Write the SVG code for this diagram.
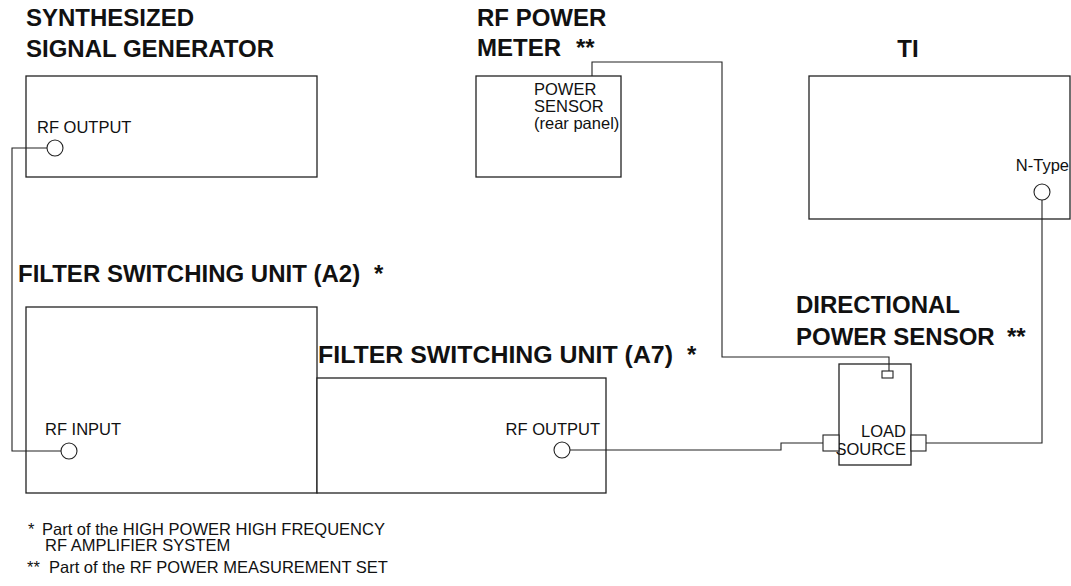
<svg xmlns="http://www.w3.org/2000/svg" width="1071" height="586" viewBox="0 0 1071 586">
<style>
.box{fill:#fff;stroke:#222;stroke-width:1.3}
.w{fill:none;stroke:#222;stroke-width:1.1}
.c{fill:#fff;stroke:#222;stroke-width:1.1}
.t{font-family:"Liberation Sans",Arial,sans-serif;font-weight:bold;font-size:24px;fill:#111}
.s{font-family:"Liberation Sans",Arial,sans-serif;font-size:16.5px;fill:#111}
</style>
<rect width="1071" height="586" fill="#fff"/>
<g id="synth">
<text class="t" x="26" y="26">SYNTHESIZED</text>
<text class="t" x="26" y="57">SIGNAL GENERATOR</text>
<rect class="box" x="26" y="76" width="291" height="101"/>
<text class="s" x="37" y="133">RF OUTPUT</text>
</g>
<g id="powermeter">
<text class="t" x="477" y="26">RF POWER</text>
<text class="t" x="477" y="56">METER</text>
<text class="t" x="576" y="56">**</text>
<rect class="box" x="476" y="76" width="145" height="101"/>
<text class="s" x="534" y="95">POWER</text>
<text class="s" x="534" y="112">SENSOR</text>
<text class="s" x="534" y="129">(rear panel)</text>
</g>
<g id="ti">
<text class="t" x="908" y="57" text-anchor="middle">TI</text>
<rect class="box" x="809" y="76" width="261" height="143"/>
<text class="s" x="1069" y="171" text-anchor="end">N-Type</text>
</g>
<g id="a2">
<text class="t" x="18" y="282">FILTER SWITCHING UNIT (A2)</text>
<text class="t" x="374" y="282">*</text>
<rect class="box" x="26" y="307" width="291" height="186"/>
<text class="s" x="45" y="435">RF INPUT</text>
</g>
<g id="a7">
<text class="t" x="318" y="363" textLength="355" lengthAdjust="spacingAndGlyphs">FILTER SWITCHING UNIT (A7)</text>
<text class="t" x="687" y="363">*</text>
<rect class="box" x="317" y="378" width="289" height="115"/>
<text class="s" x="600" y="435" text-anchor="end">RF OUTPUT</text>
</g>
<g id="directional">
<text class="t" x="796" y="313">DIRECTIONAL</text>
<text class="t" x="796" y="345">POWER SENSOR</text>
<text class="t" x="1007" y="345">**</text>
<rect class="box" x="839" y="364" width="72" height="101"/>
<text class="s" x="906" y="437" text-anchor="end">LOAD</text>
<text class="s" x="906" y="455" text-anchor="end">SOURCE</text>
</g>
<g id="notes">
<text class="s" x="28" y="535">*</text>
<text class="s" x="42" y="535">Part of the HIGH POWER HIGH FREQUENCY</text>
<text class="s" x="45" y="551">RF AMPLIFIER SYSTEM</text>
<text class="s" x="27" y="573">**</text>
<text class="s" x="49" y="573">Part of the RF POWER MEASUREMENT SET</text>
</g>
<g id="connectors">
<polyline class="w" points="47,148 12,148 12,451 61,451"/>
<polyline class="w" points="592,76 592,62 722,62 722,357 889,357 889,371"/>
<polyline class="w" points="570,450 781,450 781,443 823,443"/>
<polyline class="w" points="926,443 1042,443 1042,200"/>
<circle class="c" cx="55" cy="148" r="8"/>
<circle class="c" cx="1042" cy="192" r="8"/>
<circle class="c" cx="69" cy="451" r="8"/>
<circle class="c" cx="562" cy="450" r="8"/>
<rect class="c" x="882" y="371" width="11" height="7"/>
<rect class="c" x="823" y="435" width="16" height="16"/>
<rect class="c" x="911" y="435" width="15" height="16"/>
</g>
</svg>
